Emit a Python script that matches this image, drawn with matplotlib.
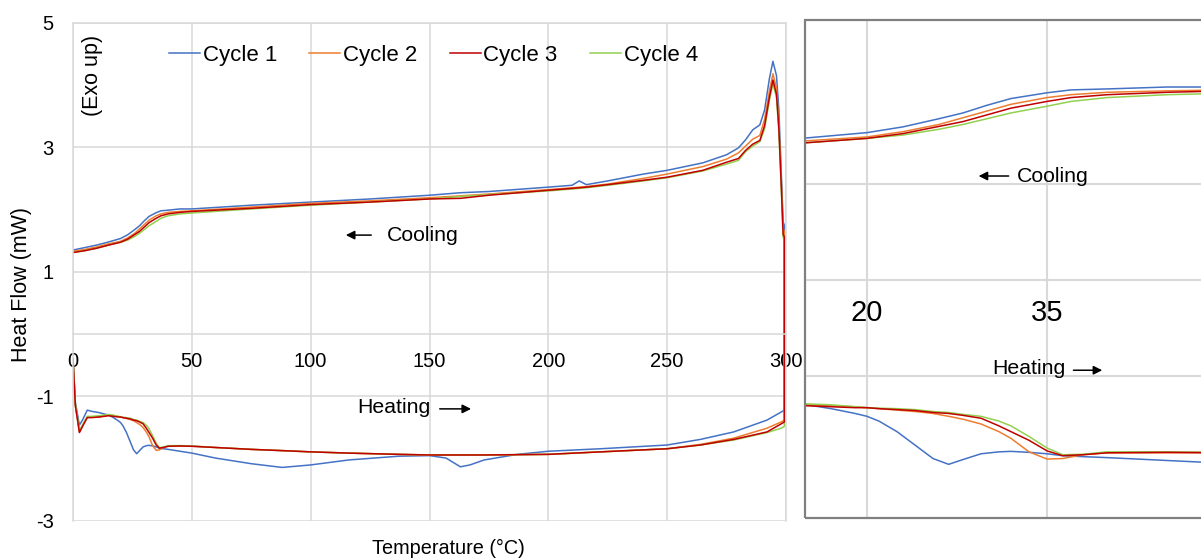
import numpy as np
import matplotlib
matplotlib.use("Agg")
import matplotlib.pyplot as plt
from matplotlib.patches import Rectangle

plt.rcParams['font.family'] = ['Liberation Sans', 'DejaVu Sans']
plt.rcParams['axes.unicode_minus'] = False

# --- data (heat flow, mW) ---
cycles = ['Cycle 1', 'Cycle 2', 'Cycle 3', 'Cycle 4']
colors = ['#4472C4', '#ED7D31', '#C00000', '#92D050']

heat_T = [0, 1, 2.7, 4, 6, 8, 11, 15, 17, 19, 20, 21, 22.5, 24, 25.5, 26.8, 28, 29.5, 31, 32,
          33.5, 35, 36.3, 38, 40, 45, 50, 60, 75, 88, 100, 116, 137, 150, 157, 160, 163, 167,
          173, 187, 200, 222, 250, 264, 278, 292, 298, 299.3]
heat_c1 = [-0.4, -1.1, -1.46, -1.38, -1.22, -1.24, -1.26, -1.30, -1.34, -1.39, -1.42, -1.47,
           -1.58, -1.72, -1.86, -1.92, -1.87, -1.81, -1.79, -1.785, -1.795, -1.81, -1.83, -1.84,
           -1.85, -1.88, -1.91, -1.99, -2.08, -2.14, -2.10, -2.02, -1.96, -1.95, -1.99, -2.06,
           -2.13, -2.10, -2.02, -1.93, -1.88, -1.84, -1.78, -1.69, -1.57, -1.38, -1.25, -1.22]
heat_c2 = [-0.4, -1.15, -1.57, -1.48, -1.33, -1.33, -1.33, -1.30, -1.31, -1.32, -1.33, -1.34,
           -1.355, -1.37, -1.39, -1.42, -1.45, -1.50, -1.58, -1.65, -1.79, -1.865, -1.86, -1.82,
           -1.80, -1.80, -1.80, -1.82, -1.85, -1.87, -1.89, -1.91, -1.93, -1.94, -1.94, -1.94,
           -1.94, -1.94, -1.94, -1.935, -1.93, -1.89, -1.84, -1.77, -1.67, -1.51, -1.41, -1.38]
heat_c3 = [-0.4, -1.15, -1.58, -1.48, -1.34, -1.34, -1.33, -1.31, -1.32, -1.33, -1.33, -1.34,
           -1.35, -1.36, -1.38, -1.39, -1.41, -1.44, -1.52, -1.58, -1.67, -1.78, -1.83, -1.82,
           -1.80, -1.795, -1.80, -1.82, -1.85, -1.87, -1.89, -1.91, -1.93, -1.94, -1.94, -1.94,
           -1.94, -1.94, -1.94, -1.935, -1.93, -1.89, -1.84, -1.78, -1.69, -1.57, -1.44, -1.41]
heat_c4 = [-0.4, -1.12, -1.55, -1.46, -1.32, -1.32, -1.31, -1.29, -1.30, -1.32, -1.33, -1.335,
           -1.34, -1.35, -1.37, -1.38, -1.40, -1.42, -1.47, -1.52, -1.63, -1.75, -1.82, -1.815,
           -1.79, -1.79, -1.795, -1.82, -1.85, -1.87, -1.89, -1.91, -1.93, -1.94, -1.94, -1.94,
           -1.94, -1.94, -1.94, -1.935, -1.93, -1.89, -1.84, -1.78, -1.70, -1.58, -1.51, -1.48]

cool_T = [0, 5, 10, 15, 20, 23, 26, 28, 30, 32, 35, 37, 40, 45, 50, 75, 100, 125, 150, 163, 175,
          200, 210, 213, 216, 225, 240, 250, 265, 275, 280, 283, 286, 289, 291, 293, 294.5, 296,
          297, 298, 298.8, 299.3]
cool_c1 = [1.35, 1.39, 1.43, 1.48, 1.535, 1.595, 1.68, 1.74, 1.82, 1.89, 1.95, 1.98, 1.99, 2.01,
           2.01, 2.07, 2.12, 2.17, 2.23, 2.27, 2.29, 2.36, 2.39, 2.46, 2.40, 2.46, 2.57, 2.63,
           2.75, 2.88, 2.99, 3.12, 3.28, 3.36, 3.60, 4.10, 4.38, 4.15, 3.60, 2.60, 1.80, 1.75]
cool_c2 = [1.33, 1.36, 1.40, 1.45, 1.49, 1.545, 1.62, 1.69, 1.76, 1.83, 1.90, 1.93, 1.955, 1.97,
           1.98, 2.04, 2.10, 2.14, 2.19, 2.22, 2.25, 2.32, 2.35, 2.36, 2.37, 2.41, 2.50, 2.57,
           2.69, 2.81, 2.91, 3.02, 3.13, 3.19, 3.45, 3.90, 4.18, 3.95, 3.40, 2.50, 1.70, 1.64]
cool_c3 = [1.31, 1.34, 1.38, 1.43, 1.475, 1.525, 1.60, 1.65, 1.72, 1.79, 1.86, 1.90, 1.93, 1.955,
           1.97, 2.02, 2.08, 2.12, 2.17, 2.18, 2.23, 2.31, 2.34, 2.35, 2.36, 2.40, 2.47, 2.52,
           2.63, 2.76, 2.82, 2.95, 3.05, 3.11, 3.35, 3.80, 4.08, 3.85, 3.30, 2.40, 1.60, 1.56]
cool_c4 = [1.31, 1.34, 1.38, 1.43, 1.475, 1.51, 1.57, 1.62, 1.68, 1.74, 1.81, 1.86, 1.90, 1.93,
           1.945, 2.01, 2.07, 2.12, 2.17, 2.21, 2.24, 2.30, 2.33, 2.34, 2.35, 2.39, 2.46, 2.51,
           2.62, 2.73, 2.79, 2.93, 3.02, 3.09, 3.30, 3.75, 4.02, 3.80, 3.25, 2.35, 1.55, 1.51]

heat_all = [heat_c1, heat_c2, heat_c3, heat_c4]
cool_all = [cool_c1, cool_c2, cool_c3, cool_c4]

main_xticks = [0, 50, 100, 150, 200, 250, 300]
main_yticks = [-3, -1, 1, 3, 5]
zoom_xticks = [20, 35]
zoom_yticks = [-1, 1]

grid_c = '#d9d9d9'
W, H = 1201, 559
fig = plt.figure(figsize=(W / 100, H / 100), dpi=100)


def px(x0, y0, x1, y1):
    # pixel box (top-left origin) -> figure fraction
    return [x0 / W, 1 - y1 / H, (x1 - x0) / W, (y1 - y0) / H]


def trace(i):
    # heating 0 -> 300, then cooling 300 -> 0, as one line per cycle
    T = list(heat_T) + list(cool_T[::-1])
    y = list(heat_all[i]) + list(cool_all[i][::-1])
    return T, y


def arrow(a, x0, x1, y):
    a.annotate('', xy=(x1, y), xytext=(x0, y),
               arrowprops=dict(arrowstyle='-|>', color='black', lw=1.1, mutation_scale=13,
                               shrinkA=0, shrinkB=0))


order = [0, 1, 3, 2]

# ---------------- main plot ----------------
ax = fig.add_axes(px(73, 22.7, 786, 521))
handles = {}
for i in order:
    T, y = trace(i)
    handles[i], = ax.plot(T, y, color=colors[i], lw=1.1, label=cycles[i])

ax.set_xlim(0, 300)
ax.set_ylim(-3, 5)
ax.set_xticks(main_xticks)
ax.set_yticks(main_yticks)
ax.grid(True, color=grid_c, lw=1.1)
ax.set_axisbelow(True)
for s in ax.spines.values():
    s.set_color(grid_c)
    s.set_linewidth(1.1)
ax.spines['bottom'].set_position(('data', 0))
ax.tick_params(axis='both', length=0, labelsize=14.5)
ax.tick_params(axis='x', pad=13)
ax.tick_params(axis='y', pad=14)

ax.legend([handles[i] for i in range(4)], cycles, loc='center left',
          bbox_to_anchor=(0.1346, 0.9346), ncol=4, frameon=False, fontsize=16,
          handlelength=1.4, handletextpad=0.12, columnspacing=1.45, borderpad=0,
          borderaxespad=0)

ax.text(0.028, 0.8945, '(Exo up)', transform=ax.transAxes, rotation=90,
        ha='center', va='center', fontsize=15.5)

arrow(ax, 125.5, 114.8, 1.59)
ax.text(132, 1.59, 'Cooling', ha='left', va='center', fontsize=15.3)
ax.text(119.8, -1.17, 'Heating', ha='left', va='center', fontsize=15.3)
arrow(ax, 154.3, 167.5, -1.2)

fig.text(22 / W, 1 - 285 / H, 'Heat Flow (mW)', rotation=90, ha='center', va='center',
         fontsize=15.5)
fig.text(448 / W, 1 - 548 / H, 'Temperature (°C)', ha='center', va='center', fontsize=14.3)

# ---------------- zoomed panel ----------------
zx0, zx1 = 14.83, 50
ins = fig.add_axes(px(805, 20, 805 + (zx1 - zx0) * 12, 518))
for i in order:
    T, y = trace(i)
    ins.plot(T, y, color=colors[i], lw=1.1)
ins.set_xlim(zx0, zx1)
ins.set_ylim(-2.479, 2.708)
ins.set_xticks(zoom_xticks)
ins.set_yticks(zoom_yticks)
ins.grid(True, color=grid_c, lw=1.5)
ins.set_axisbelow(True)
ins.tick_params(length=0, labelbottom=False, labelleft=False)
for s in ins.spines.values():
    s.set_visible(False)
ins.axhline(0, color=grid_c, lw=1.5, zorder=0.5)
ins.add_patch(Rectangle((0, 0), 1, 1, transform=ins.transAxes, fill=False,
                        ec='#808080', lw=1.6, clip_on=False, zorder=5))
for t in zoom_xticks:
    ins.text(t, -0.34, str(t), ha='center', va='center', fontsize=21)

arrow(ins, 31.8, 29.3, 1.083)
ins.text(32.5, 1.083, 'Cooling', ha='left', va='center', fontsize=15.3)
ins.text(30.4, -0.917, 'Heating', ha='left', va='center', fontsize=15.3)
arrow(ins, 37.2, 39.6, -0.94)

fig.savefig('out.png', dpi=100)
